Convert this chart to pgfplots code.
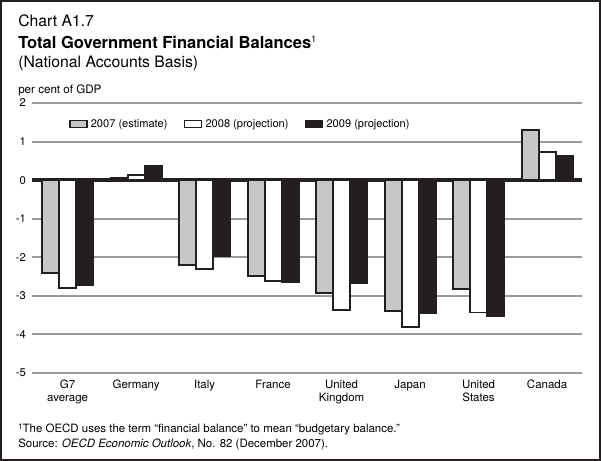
\documentclass[border=0pt]{standalone}
\usepackage{fontspec}
\setmainfont{TeX Gyre Heros}
\usepackage{pgfplots}
\pgfplotsset{compat=1.18}
\definecolor{barGray}{HTML}{C6C7C8}
\definecolor{barBlack}{HTML}{231F20}
\definecolor{gridGray}{HTML}{9B9B9B}
\begin{document}
\begin{tikzpicture}
\begin{scope}[x=0.75pt,y=-0.75pt]
\useasboundingbox (0,0) rectangle (601,461);
\end{scope}
\begin{axis}[
  at={(24pt,-279.75pt)}, anchor=south west,
  scale only axis, width=412.5pt, height=202.5pt,
  xmin=-0.52, xmax=7.51, ymin=-5, ymax=2,
  ytick={-5,...,2},
  xtick={0,...,7},
  xticklabels={G7\\average, Germany, Italy, France, United\\Kingdom, Japan, United\\States, Canada},
  /pgf/number format/assume math mode=true,
  axis line style={draw=none},
  major tick length=0pt,
  ymajorgrids,
  grid style={gridGray, line width=1.5pt},
  extra y ticks={0}, extra y tick labels={},
  extra y tick style={grid style={barBlack, line width=3pt}},
  yticklabel style={font=\fontsize{8.4}{9.75}\selectfont, inner sep=0pt, xshift=-4.5pt, anchor=east},
  xticklabel style={font=\fontsize{8.6}{9.75}\selectfont, align=center, inner sep=0pt, yshift=-5pt, anchor=north},
  ybar=0pt, bar width=12.75pt,
  legend image code/.code={\draw[#1, line width=1pt] (0pt,-2.6pt) rectangle (12.75pt,2.6pt);},
  legend columns=3,
  legend style={draw=none, fill=none, inner sep=0pt, at={(0.0673,0.922)}, anchor=west,
    font=\fontsize{8.3}{9.75}\selectfont,
    nodes={inner sep=2.4pt},
    /tikz/every even column/.append style={column sep=10pt}},
]
\addplot[fill=barGray, draw=barBlack, line width=1.4pt] coordinates {
 (0,-2.4) (1,0.05) (2,-2.2) (3,-2.48) (4,-2.93) (5,-3.4) (6,-2.83) (7,1.29)};
\addplot[fill=white, draw=barBlack, line width=1.4pt] coordinates {
 (0,-2.8) (1,0.13) (2,-2.3) (3,-2.62) (4,-3.36) (5,-3.8) (6,-3.43) (7,0.72)};
\addplot[fill=barBlack, draw=barBlack, line width=1.4pt] coordinates {
 (0,-2.72) (1,0.38) (2,-1.98) (3,-2.65) (4,-2.66) (5,-3.45) (6,-3.52) (7,0.62)};
\legend{2007 (estimate), 2008 (projection), 2009 (projection)}
\end{axis}
\begin{scope}[x=0.75pt,y=-0.75pt]
\draw[barBlack, line width=1.5pt] (1,1) rectangle (600,460);
\node[anchor=base west, inner sep=0pt, font=\fontsize{11.8}{14}\selectfont] at (18,26) {Chart A1.7};
\node[anchor=base west, inner sep=0pt, font=\fontsize{12.4}{14}\selectfont\bfseries] at (18,48) {Total Government Financial Balances\textsuperscript{\normalfont\fontsize{7}{8}\selectfont 1}};
\node[anchor=base west, inner sep=0pt, font=\fontsize{11.8}{14}\selectfont] at (18,67) {(National Accounts Basis)};
\node[anchor=base west, inner sep=0pt, font=\fontsize{8.7}{10}\selectfont] at (18,93) {per cent of GDP};
\node[anchor=base west, inner sep=0pt, font=\fontsize{8.6}{10}\selectfont] at (18,432) {\raisebox{0.5ex}{\fontsize{6}{7}\selectfont 1}The OECD uses the term “financial balance” to mean “budgetary balance.”};
\node[anchor=base west, inner sep=0pt, font=\fontsize{8.6}{10}\selectfont] at (18,447) {Source: \textit{OECD Economic Outlook}, No. 82 (December 2007).};
\end{scope}
\end{tikzpicture}
\end{document}
